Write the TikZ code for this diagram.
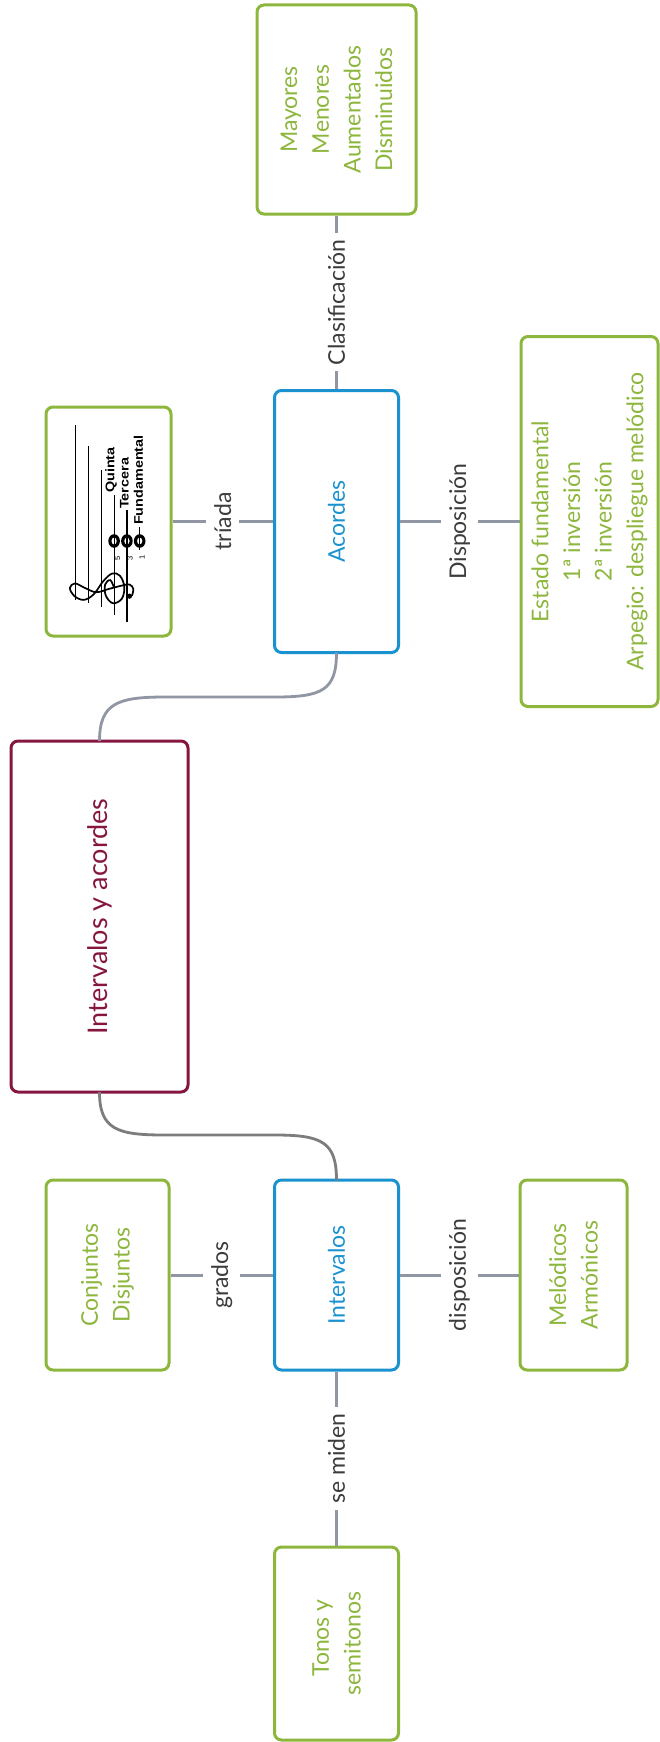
\documentclass[tikz,border=0pt]{standalone}
\usepackage{fontspec}
\setmainfont{Lato}
\newfontfamily\arialfont{Liberation Sans}
\usetikzlibrary{calc}
\definecolor{cgreen}{RGB}{141,182,60}
\definecolor{cblue}{RGB}{26,146,208}
\definecolor{cmaroon}{RGB}{134,22,64}
\definecolor{cconn}{RGB}{145,150,165}
\definecolor{cdark}{RGB}{125,125,125}
\definecolor{clab}{RGB}{60,60,60}
\begin{document}
\begin{tikzpicture}[x=1pt,y=-1pt,
  box/.style={draw, line width=3pt, rounded corners=7pt, fill=white, inner sep=0pt, outer sep=0pt},
  gbox/.style={box, draw=cgreen},
  bbox/.style={box, draw=cblue},
  txt/.style={rotate=90, align=center, inner sep=0pt, font=\fontsize{23}{31.7}\selectfont},
  lab/.style={rotate=90, fill=white, text=clab, inner xsep=6pt, inner ysep=8pt, font=\fontsize{23}{28}\selectfont},
  conn/.style={draw=cconn, line width=3pt, shorten >=1.5pt, shorten <=1.5pt},
  staffline/.style={line width=1.2pt},
  num/.style={rotate=90, inner sep=0pt, font=\arialfont\fontsize{7.5}{8}\selectfont},
  stafflab/.style={rotate=90, inner sep=0pt, anchor=west, font=\arialfont\bfseries\fontsize{12.5}{13}\selectfont},
]
\useasboundingbox (0,0) rectangle (660,1742);
\fill[white] (0,0) rectangle (660,1742);

% boxes
\node[gbox, minimum width=159pt, minimum height=209pt] (mayores) at (336.5,109.5) {};
\node[bbox, minimum width=124pt, minimum height=262pt] (acordes) at (336.5,521.5) {};
\node[gbox, minimum width=125pt, minimum height=229pt] (trbox) at (108.5,521.5) {};
\node[gbox, minimum width=137pt, minimum height=370pt] (estado) at (589.5,521.5) {};
\node[box, draw=cmaroon, minimum width=177pt, minimum height=351pt] (main) at (99.5,916.5) {};
\node[bbox, minimum width=124pt, minimum height=190pt] (intervalos) at (336.5,1275) {};
\node[gbox, minimum width=123pt, minimum height=190pt] (conjuntos) at (107.5,1275) {};
\node[gbox, minimum width=107pt, minimum height=190pt] (melodicos) at (573.5,1275) {};
\node[gbox, minimum width=124pt, minimum height=193pt] (tonos) at (336.5,1643.5) {};

% texts
\node[txt, text=cgreen] (mayoresT) at (mayores) {Mayores\\Menores\\Aumentados\\Disminuidos};
\node[txt, text=cblue] (acordesT) at (acordes) {Acordes};
\node[txt, text=cgreen] (estadoT) at (estado) {Estado fundamental\\1ª inversión\\2ª inversión\\Arpegio: despliegue melódico};
\node[rotate=90, inner sep=0pt, text=cmaroon, font=\fontsize{27}{32}\selectfont] (mainT) at (main) {Intervalos y acordes};
\node[txt, text=cblue] (intervalosT) at (intervalos) {Intervalos};
\node[txt, text=cgreen] (conjuntosT) at (conjuntos) {Conjuntos\\Disjuntos};
\node[txt, text=cgreen] (melodicosT) at (melodicos) {Melódicos\\Armónicos};
\node[txt, text=cgreen] (tonosT) at (tonos) {\hspace*{11pt}Tonos y\\semitonos};

% connectors with labels
\draw[conn] (mayores) -- (acordes) node[lab, midway] (l1) {Clasificación};
\draw[conn] (trbox) -- (acordes) node[lab, midway] (l2) {tríada};
\draw[conn] (acordes) -- (estado) node[lab, midway] (l3) {Disposición};
\draw[conn] (conjuntos) -- (intervalos) node[lab, midway] (l4) {grados};
\draw[conn] (intervalos) -- (melodicos) node[lab, midway] (l5) {disposición};
\draw[conn] (intervalos) -- (tonos) node[lab, midway] (l6) {se miden};

% curved connectors to main
\draw[draw=cconn, line width=2.8pt] (main.north) .. controls ($(main.north)+(0,-38)$) and (118,697) .. (165,697) -- (275,697) .. controls (322,697) and ($(acordes.south)+(0,38)$) .. (acordes.south);
\draw[draw=cdark, line width=2.8pt] (main.south) .. controls ($(main.south)+(0,38)$) and (118,1135) .. (165,1135) -- (275,1135) .. controls (322,1135) and ($(intervalos.north)+(0,-38)$) .. (intervalos.north);

% staff image inside trbox
\foreach \nx in {114.1,126.9,139.7}{
  \fill (\nx,541) ellipse [x radius=5.8pt, y radius=6.8pt];
  \fill[white] (\nx,541) ellipse [x radius=2.6pt, y radius=3.4pt];
}
\draw[staffline] (75.7,425) -- (75.7,600);
\draw[staffline] (88.5,446) -- (88.5,603);
\draw[staffline] (101.3,470) -- (101.3,607);
\draw[staffline] (114.1,495) -- (114.1,615);
\draw[staffline] (126.9,510) -- (126.9,622);
\draw[staffline] (139.7,527) -- (139.7,550);
\node[num] (n5) at (117.5,558) {5};
\node[num] (n3) at (130,558) {3};
\node[num] (n1) at (142,557) {1};
\node[stafflab] (q) at (111,493) {\scalebox{1.15}[1]{Quinta}};
\node[stafflab] (t) at (124.5,509) {\scalebox{1.15}[1]{Tercera}};
\node[stafflab] (f) at (138.5,525) {\scalebox{1.15}[1]{Fundamental}};
\begin{scope}[shift={(101.3,590)}, x={(0pt,22pt)}, y={(-12.8pt,0pt)}]
  \draw[line width=1.7pt, line cap=round] plot[smooth, tension=0.6] coordinates {
    (0.1,-1.0) (0.45,-0.7) (0.25,-0.3) (-0.25,-0.35) (-0.6,-0.9) (-0.4,-1.6)
    (0.15,-1.8) (0.65,-1.45) (0.75,-0.85) (0.4,-0.15) (-0.2,0.6) (-0.45,1.4)
    (-0.25,2.15) (0.1,2.45) (0.3,2.05) (0.1,1.3) (-0.1,0.4) (0.05,-0.6)
    (0.2,-1.6) (0.25,-2.2) (0.05,-2.5) (-0.25,-2.4)};
  \fill (-0.28,-2.2) circle [radius=2.6pt];
\end{scope}
\end{tikzpicture}
\end{document}
